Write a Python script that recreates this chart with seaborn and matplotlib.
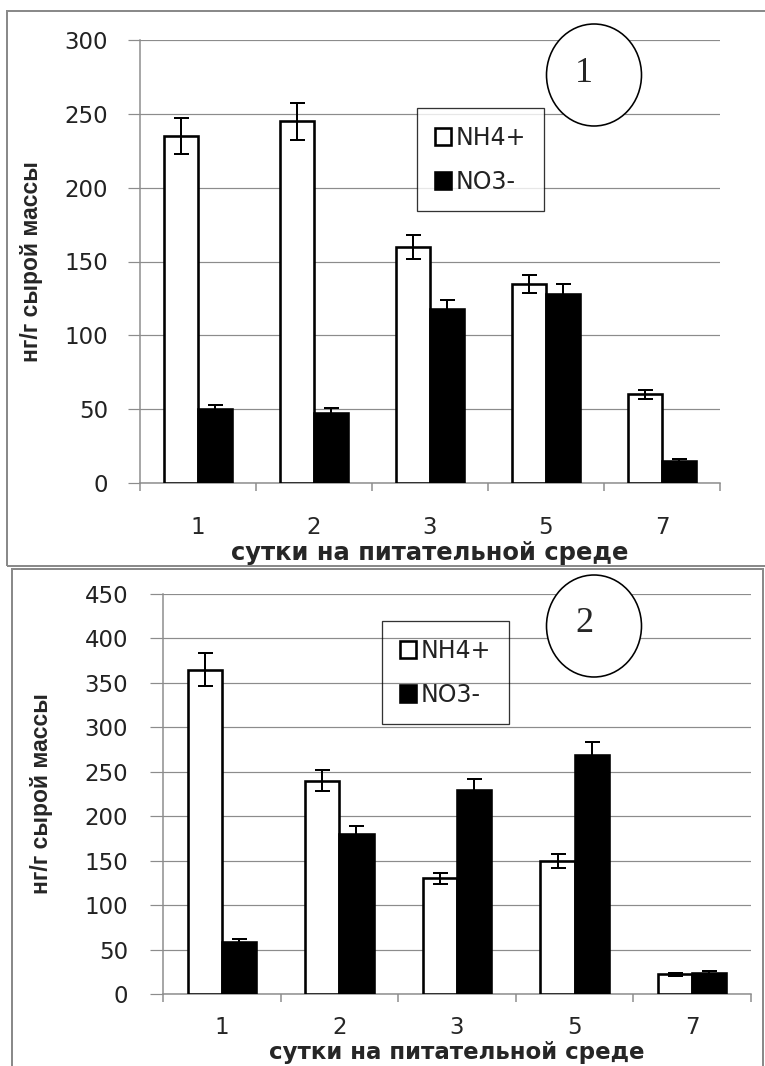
import numpy as np
import pandas as pd
import seaborn as sns
import matplotlib.pyplot as plt
from matplotlib import patches

sns.set_style("white")
plt.rcParams['font.family'] = ['DejaVu Sans']

days = ['1', '2', '3', '5', '7']
ions = ['NH4+', 'NO3-']

# panel 1
nh4_1 = [235, 245, 160, 135, 60]
nh4_1_err = [12, 12.5, 8, 6, 3]
no3_1 = [50, 47.5, 118, 128, 15]
no3_1_err = [3, 3, 6, 7, 1.5]

# panel 2
nh4_2 = [365, 240, 130, 150, 22]
nh4_2_err = [19, 12, 6, 8, 1.5]
no3_2 = [59, 180, 229, 269, 24]
no3_2_err = [3, 9.5, 13, 15, 2]

W, H = 765, 1066
GRID = '#8c8c8c'
PX = 72 / 100  # points per pixel


def fx(px):
    return px / W


def fy(py):
    return 1 - py / H


def draw_panel(ax, nh4, nh4_err, no3, no3_err, ymax, xpad, ypad, ylen, xlsize):
    df = pd.DataFrame({'day': days * 2,
                       'ion': [ions[0]] * 5 + [ions[1]] * 5,
                       'value': nh4 + no3})
    sns.barplot(data=df, x='day', y='value', hue='ion', palette=['white', 'black'],
                saturation=1, edgecolor='black', linewidth=2.6 * PX, width=0.58,
                gap=0, errorbar=None, ax=ax, zorder=3)
    for cont, err in zip(ax.containers, [nh4_err, no3_err]):
        xs = [b.get_x() + b.get_width() / 2 for b in cont]
        hs = [b.get_height() for b in cont]
        ax.errorbar(xs, hs, yerr=err, fmt='none', ecolor='black', elinewidth=2 * PX,
                    capsize=7.5 * PX, capthick=2 * PX, zorder=4)

    ax.set_ylim(0, ymax)
    ax.set_xlim(-0.5, 4.5)
    ax.set_yticks(np.arange(0, ymax + 1, 50))
    ax.yaxis.grid(True, color=GRID, lw=1.2 * PX)
    ax.set_axisbelow(True)
    for s in ['top', 'right']:
        ax.spines[s].set_visible(False)
    for s in ['left', 'bottom']:
        ax.spines[s].set_color(GRID)
        ax.spines[s].set_linewidth(1.5 * PX)

    ax.set_xticks(np.arange(-0.5, 5, 1), labels=[''] * 6)
    ax.set_xticks(range(5), labels=days, minor=True)
    ax.tick_params(axis='x', which='major', length=8 * PX, width=1.5 * PX, color=GRID,
                   direction='out', bottom=True)
    ax.tick_params(axis='x', which='minor', length=0, pad=xpad * PX, labelsize=16.5,
                   bottom=True)
    ax.tick_params(axis='y', length=ylen * PX, width=1.2 * PX, color=GRID, direction='out',
                   pad=ypad * PX, labelsize=16.5, left=True, labelcolor='#222222')
    ax.tick_params(axis='x', labelcolor='#222222')
    ax.set_ylabel('нг/г сырой массы', fontfamily='Liberation Sans', fontweight='bold',
                  fontsize=16.5)
    ax.set_xlabel('сутки на питательной среде', fontweight='bold', fontsize=xlsize)


fig = plt.figure(figsize=(W / 100, H / 100), dpi=100)

# panel frames
fig.add_artist(patches.Rectangle((fx(7), fy(566)), fx(768 - 7), (566 - 11) / H,
                                 transform=fig.transFigure, fill=False,
                                 edgecolor='#8a8a8a', lw=2 * PX))
fig.add_artist(patches.Rectangle((fx(12), fy(1072)), fx(763 - 12), (1072 - 569) / H,
                                 transform=fig.transFigure, fill=False,
                                 edgecolor='#8a8a8a', lw=2 * PX))

ax1 = fig.add_axes([fx(140), fy(483), fx(720 - 140), (483 - 40) / H])
draw_panel(ax1, nh4_1, nh4_1_err, no3_1, no3_1_err, 300, xpad=33, ypad=20, ylen=12,
           xlsize=17.5)
ax1.yaxis.set_label_coords((43 - 140) / 580, 0.5)
ax1.xaxis.set_label_coords(0.5, (483 - 541) / 443)

ax2 = fig.add_axes([fx(163), fy(994), fx(751 - 163), (994 - 594) / H])
draw_panel(ax2, nh4_2, nh4_2_err, no3_2, no3_2_err, 450, xpad=22, ypad=22, ylen=13,
           xlsize=16.5)
ax2.yaxis.set_label_coords((53 - 163) / 588, 0.5)
ax2.xaxis.set_label_coords(0.5, (994 - 1041) / 400)

# legends
for ax, anchor, face in [(ax1, ((417 - 140) / 580, (483 - 108) / 443), 'white'),
                         (ax2, ((382 - 163) / 588, (994 - 621) / 400), 'none')]:
    handles, labels = ax.get_legend_handles_labels()
    leg = ax.legend(handles, labels, loc='upper left', bbox_to_anchor=anchor,
                    frameon=True, fancybox=False, edgecolor='black', framealpha=None,
                    fontsize=17, handlelength=0.7, handleheight=0.7,
                    handletextpad=0.2, labelspacing=0.85, borderpad=0.75,
                    borderaxespad=0)
    leg.get_frame().set_linewidth(1.3 * PX)
    leg.get_frame().set_facecolor(face)
    for t in leg.get_texts():
        t.set_color('#222222')

# numbered circles
for cx, cy, num in [(594, 75, '1'), (594, 626, '2')]:
    fig.add_artist(patches.Ellipse((fx(cx), fy(cy)), 95 / W, 102 / H,
                                   transform=fig.transFigure, facecolor='white',
                                   edgecolor='black', lw=1.6 * PX, zorder=5))
    fig.text(fx(cx - 10), fy(cy - 2), num, fontfamily='Liberation Serif', fontsize=26,
             ha='center', va='center', zorder=6)

fig.savefig('out.png', dpi=100)
